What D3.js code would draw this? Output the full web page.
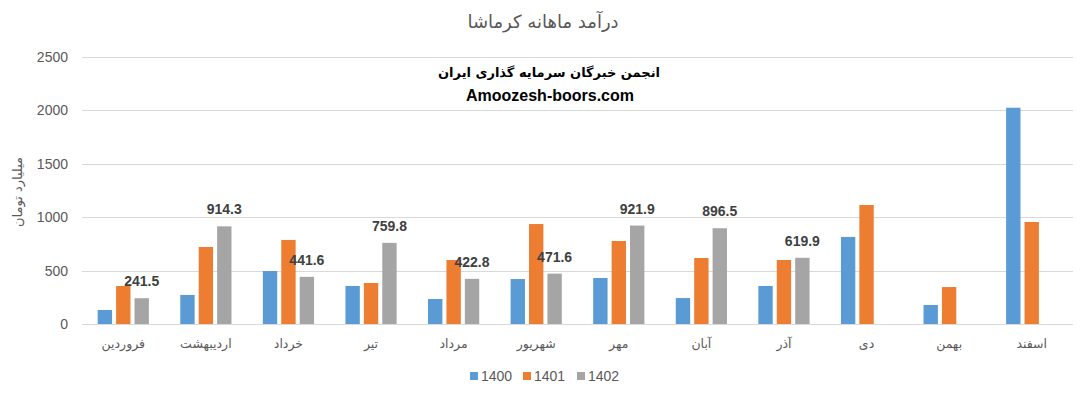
<!DOCTYPE html>
<html>
<head>
<meta charset="utf-8">
<script src="https://cdn.jsdelivr.net/npm/d3@7"></script>
<style>
  body { margin: 0; background: #fff; }
  text { font-family: "Liberation Sans", "DejaVu Sans", sans-serif; }
  .fa { font-family: "DejaVu Sans", sans-serif; }
</style>
</head>
<body>
<div id="chart"></div>
<script>
const w = 1086, h = 396

// data
const months = ["فروردین", "اردیبهشت", "خرداد", "تیر", "مرداد", "شهریور", "مهر", "آبان", "آذر", "دی", "بهمن", "اسفند"]
const series = ["1400", "1401", "1402"]
const colors = ["#5B9BD5", "#ED7D31", "#A5A5A5"]
const v1400 = [131, 272, 496, 356, 234, 421, 431, 243, 356, 815, 178, 2025]
const v1401 = [356, 721, 787, 384, 599, 936, 777, 618, 599, 1114, 346, 955]
const v1402 = [241.5, 914.3, 441.6, 759.8, 422.8, 471.6, 921.9, 896.5, 619.9, null, null, null]
const yTicks = [0, 500, 1000, 1500, 2000, 2500]

const values = [v1400, v1401, v1402]

const svg = d3.select("#chart").append("svg")
    .attr("width", w)
    .attr("height", h)

//scales
const x = d3.scaleBand()
    .domain(months)
    .range([82, 1073])
    .paddingInner(0.38)
    .paddingOuter(0.19)

const xs = d3.scaleBand()
    .domain(series)
    .range([0, x.bandwidth()])
    .paddingInner(0.22)

const y = d3.scaleLinear()
    .domain([0, 2500])
    .range([324, 57])

// grid
svg.append("g").selectAll("line")
    .data(yTicks)
    .enter()
    .append("line")
    .attr("x1", 82)
    .attr("x2", 1073)
    .attr("y1", d => Math.round(y(d)) + 0.5)
    .attr("y2", d => Math.round(y(d)) + 0.5)
    .attr("stroke", "#d9d9d9")
    .attr("stroke-width", 1)

// y tick labels
svg.append("g").selectAll("text")
    .data(yTicks)
    .enter()
    .append("text")
    .attr("x", 68)
    .attr("y", d => y(d) + 5)
    .attr("text-anchor", "end")
    .attr("font-size", 14)
    .attr("fill", "#595959")
    .text(d => d)

// bars
const groups = svg.append("g").selectAll("g.series")
    .data(series)
    .enter()
    .append("g")
    .attr("class", "series")
    .attr("fill", (d, i) => colors[i])

groups.selectAll("rect")
    .data((s, i) => months.map((m, j) => ({ s: s, m: m, v: values[i][j] })).filter(d => d.v != null))
    .enter()
    .append("rect")
    .attr("x", d => x(d.m) + xs(d.s))
    .attr("width", xs.bandwidth())
    .attr("y", d => y(d.v))
    .attr("height", d => y(0) - y(d.v))

// data labels for 1402
svg.append("g").selectAll("text")
    .data(months.map((m, j) => ({ m: m, v: v1402[j] })).filter(d => d.v != null))
    .enter()
    .append("text")
    .attr("x", d => x(d.m) + xs("1402") + xs.bandwidth() / 2)
    .attr("y", d => y(d.v) - 12)
    .attr("text-anchor", "middle")
    .attr("font-size", 14)
    .attr("font-weight", "bold")
    .attr("fill", "#404040")
    .text(d => d.v.toFixed(1))

// x labels
svg.append("g").selectAll("text")
    .data(months)
    .enter()
    .append("text")
    .attr("class", "fa")
    .attr("x", d => x(d) + x.bandwidth() / 2)
    .attr("y", 348)
    .attr("text-anchor", "middle")
    .attr("font-size", 12.5)
    .attr("fill", "#595959")
    .text(d => d)

// title
svg.append("text")
    .attr("class", "fa")
    .attr("x", 543)
    .attr("y", 28)
    .attr("text-anchor", "middle")
    .attr("font-size", 18)
    .attr("fill", "#595959")
    .text("درآمد ماهانه کرماشا")

// watermark
svg.append("text")
    .attr("class", "fa")
    .attr("x", 549)
    .attr("y", 77)
    .attr("text-anchor", "middle")
    .attr("font-size", 13)
    .attr("font-weight", "bold")
    .attr("fill", "#000")
    .text("انجمن خبرگان سرمایه گذاری ایران")

svg.append("text")
    .attr("x", 550)
    .attr("y", 101)
    .attr("text-anchor", "middle")
    .attr("font-size", 16)
    .attr("font-weight", "bold")
    .attr("fill", "#000")
    .text("Amoozesh-boors.com")

// y axis title
svg.append("text")
    .attr("class", "fa")
    .attr("transform", "translate(22,192) rotate(-90)")
    .attr("text-anchor", "middle")
    .attr("font-size", 13)
    .attr("fill", "#595959")
    .text("میلیارد تومان")

// legend
const lx = [470, 523, 577]
const legend = svg.append("g").selectAll("g")
    .data(series)
    .enter()
    .append("g")
    .attr("transform", (d, i) => "translate(" + lx[i] + ",372)")

legend.append("rect")
    .attr("width", 8)
    .attr("height", 8)
    .attr("fill", (d, i) => colors[i])

legend.append("text")
    .attr("x", 11)
    .attr("y", 9)
    .attr("font-size", 14)
    .attr("fill", "#595959")
    .text(d => d)
</script>
</body>
</html>
